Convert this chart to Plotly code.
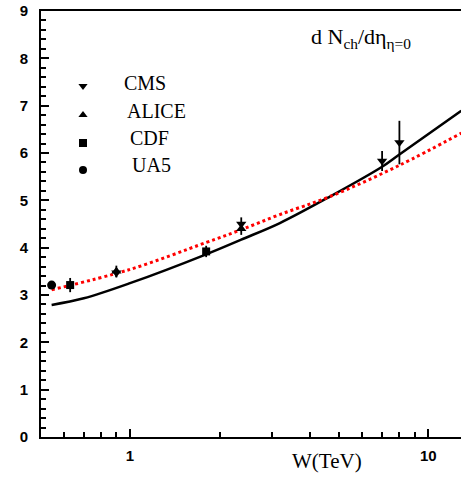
import plotly.graph_objects as go

# ---------------- data ----------------
W_ua5 = [0.546]
N_ua5 = [3.21]

W_cdf = [0.63, 1.8]
N_cdf = [3.21, 3.92]
E_cdf = [0.15, 0.12]

W_alice = [0.9, 2.36]
N_alice = [3.50, 4.40]
E_alice = [0.12, 0.13]

W_cms = [0.9, 2.36, 7.0, 8.0]
N_cms = [3.47, 4.50, 5.83, 6.22]
E_cms = [0.10, 0.14, 0.21, 0.46]

W_solid = [0.546, 0.7, 1.0, 1.8, 2.36, 3.18, 4.68, 7.0, 8.0, 12.9]
N_solid = [2.79, 2.93, 3.25, 3.86, 4.17, 4.52, 5.08, 5.71, 5.97, 6.89]

W_dot = [0.546, 1.0, 1.8, 2.36, 3.18, 4.68, 8.0, 12.9]
N_dot = [3.11, 3.54, 4.11, 4.38, 4.70, 5.08, 5.74, 6.42]

legend_labels = ["CMS", "ALICE", "CDF", "UA5"]
legend_symbols = ["triangle-down", "triangle-up", "square", "circle"]

x_ticks = [1, 10]
x_ticktext = ["1", "10"]
x_minor_ticks = [0.6, 0.7, 0.8, 0.9, 2, 3, 4, 5, 6, 7, 8, 9]
y_minor_step = 0.2

# ---------------- geometry helpers ----------------
FW, FH = 461, 477
ML, MR, MT, MB = 41, 0, 11, 40
PW = FW - ML - MR
PH = FH - MT - MB
XR = [-0.2984, 1.1096]
YR = [0, 9]


def px(x):
    return (x - ML) / PW


def py(y):
    return (FH - MB - y) / PH


fig = go.Figure()

# theory curves
fig.add_trace(go.Scatter(x=W_solid, y=N_solid, mode="lines",
                         line=dict(color="black", width=2.5, shape="spline"),
                         showlegend=False, hoverinfo="skip"))
fig.add_trace(go.Scatter(x=W_dot, y=N_dot, mode="lines",
                         line=dict(color="#ff0000", width=3, dash="dot", shape="spline"),
                         showlegend=False, hoverinfo="skip"))

err_style = dict(type="data", color="black", thickness=1.8, width=0)

fig.add_trace(go.Scatter(x=W_ua5, y=N_ua5, mode="markers",
                         marker=dict(symbol="circle", size=9, color="black"),
                         showlegend=False))
fig.add_trace(go.Scatter(x=W_cdf, y=N_cdf, mode="markers",
                         marker=dict(symbol="square", size=8, color="black"),
                         error_y=dict(array=E_cdf, **err_style), showlegend=False))
fig.add_trace(go.Scatter(x=W_alice, y=N_alice, mode="markers",
                         marker=dict(symbol="triangle-up", size=9, color="black"),
                         error_y=dict(array=E_alice, **err_style), showlegend=False))
fig.add_trace(go.Scatter(x=W_cms, y=N_cms, mode="markers",
                         marker=dict(symbol="triangle-down", size=9, color="black"),
                         error_y=dict(array=E_cms, **err_style), showlegend=False))

# legend markers on an overlay axis in paper units
leg_y_px = [86, 115, 143, 170]
leg_text_x_px = [122, 125, 128, 130]
leg_text_y_px = [83, 111, 138, 165]
for lab, sym, ym in zip(legend_labels, legend_symbols, leg_y_px):
    fig.add_trace(go.Scatter(x=[px(83)], y=[py(ym)], mode="markers",
                             xaxis="x2", yaxis="y2",
                             marker=dict(symbol=sym, size=8, color="black"),
                             showlegend=False, hoverinfo="skip"))

annotations = []
for lab, xt, yt in zip(legend_labels, leg_text_x_px, leg_text_y_px):
    annotations.append(dict(text=lab, xref="paper", yref="paper",
                            x=px(xt), y=py(yt), xanchor="left", yanchor="middle",
                            showarrow=False,
                            font=dict(family="Liberation Serif", size=20, color="black")))

annotations.append(dict(text="d N<sub>ch</sub>/dη<sub>η=0</sub>", xref="paper", yref="paper",
                        x=px(309), y=py(38), xanchor="left", yanchor="middle",
                        showarrow=False,
                        font=dict(family="Liberation Serif", size=22, color="black")))

annotations.append(dict(text="W(TeV)", xref="paper", yref="paper",
                        x=px(327), y=py(461), xanchor="center", yanchor="middle",
                        showarrow=False,
                        font=dict(family="Liberation Serif", size=21, color="black")))

tickfont = dict(family="Liberation Sans", size=15, color="black", weight="bold")

fig.update_layout(
    width=FW, height=FH,
    margin=dict(l=ML, r=MR, t=MT, b=MB),
    paper_bgcolor="white", plot_bgcolor="white",
    showlegend=False,
    annotations=annotations,
    xaxis=dict(type="log", range=XR,
               tickvals=x_ticks, ticktext=x_ticktext,
               ticks="inside", ticklen=8, tickwidth=2, tickcolor="black",
               showline=True, linewidth=2, linecolor="black", mirror=True,
               showgrid=False, zeroline=False, tickfont=tickfont,
               ticklabelstandoff=4),
    yaxis=dict(range=YR, dtick=1, tick0=0,
               ticks="inside", ticklen=8, tickwidth=2, tickcolor="black",
               minor=dict(ticks="inside", ticklen=5, tickwidth=2, tickcolor="black",
                          dtick=y_minor_step, tick0=0, showgrid=False),
               showline=True, linewidth=2, linecolor="black", mirror=False,
               showgrid=False, zeroline=False, tickfont=tickfont,
               ticklabelstandoff=8),
    xaxis2=dict(overlaying="x", range=[0, 1], visible=False, anchor="y2"),
    yaxis2=dict(overlaying="y", range=[0, 1], visible=False, anchor="x2"),
    xaxis3=dict(overlaying="x", type="log", range=XR, anchor="y", side="bottom",
                tickmode="array", tickvals=x_minor_ticks, showticklabels=False,
                ticks="inside", ticklen=5, tickwidth=2, tickcolor="black",
                showline=False, showgrid=False, zeroline=False),
)

# invisible trace so the minor-tick x axis is drawn
fig.add_trace(go.Scatter(x=[1], y=[1], mode="markers", xaxis="x3", yaxis="y",
                         marker=dict(size=1, opacity=0), showlegend=False,
                         hoverinfo="skip"))

fig.write_html("out.html")
